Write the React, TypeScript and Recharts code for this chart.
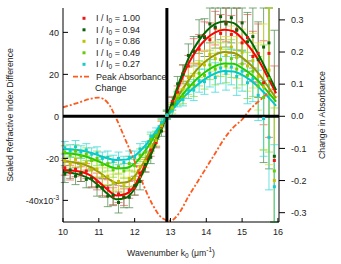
import React from "react";
import {
  ComposedChart,
  XAxis,
  YAxis,
  Line,
  Scatter,
  ErrorBar,
  ReferenceLine,
  Legend,
} from "recharts";

const FONT = "'Liberation Sans', Arial, Helvetica, sans-serif";

// wavenumbers of the measured points (um^-1)
const kPoints = [
  10.05, 10.2, 10.35, 10.5, 10.65, 10.8, 10.95, 11.1, 11.25, 11.4, 11.55, 11.7, 11.85,
  12.0, 12.15, 12.3, 12.45, 12.6, 12.75, 12.9, 13.05, 13.2, 13.35, 13.5, 13.65, 13.8, 13.95,
  14.1, 14.25, 14.4, 14.55, 14.7, 14.85, 15.0, 15.15, 15.3, 15.45, 15.6, 15.75, 15.9,
];

const ratios = ["1.00", "0.94", "0.86", "0.49", "0.27"];

// scaled refractive index difference (x10^-3), measured
const measured100 = [
  -24.5, -26.8, -25.2, -27.5, -26.0, -29.5, -31.0, -33.8, -34.2, -38.0, -37.0, -38.5, -35.0,
  -34.0, -27.0, -23.5, -16.0, -12.5, -4.8, 0.5, 7.0, 11.5, 20.5, 24.0, 31.0, 32.0, 38.0,
  36.5, 42.0, 39.5, 44.5, 39.0, 41.5, 35.0, 37.5, 28.5, 30.0, 16.0, 30.0, -21.0,
];
const measured094 = [
  -27.5, -25.5, -28.5, -27.0, -30.0, -29.5, -33.5, -34.0, -38.0, -37.5, -41.0, -38.5, -38.5,
  -33.0, -31.0, -23.0, -19.5, -11.5, -7.0, 1.0, 6.0, 15.5, 20.0, 29.0, 31.0, 38.0, 37.5,
  44.0, 42.5, 47.5, 44.0, 47.0, 41.0, 44.5, 35.5, 38.0, 27.0, 33.0, 35.0, -19.0,
];
const measured086 = [
  -21.0, -22.5, -20.5, -23.5, -22.0, -25.5, -25.0, -28.5, -28.5, -31.5, -31.0, -33.0, -29.5,
  -29.5, -24.0, -21.5, -14.5, -11.5, -4.5, 0.5, 4.0, 10.0, 13.0, 18.5, 19.5, 25.0, 24.5,
  29.5, 27.5, 32.5, 29.0, 33.0, 28.0, 30.5, 24.0, 26.5, 19.0, 14.0, 22.0, -30.5,
];
const measured049 = [
  -17.0, -18.5, -16.5, -19.0, -18.0, -21.0, -20.0, -23.0, -22.5, -25.5, -24.0, -26.0, -22.5,
  -23.5, -18.5, -17.0, -11.0, -9.0, -3.5, 0.5, 3.0, 8.5, 9.5, 15.0, 15.0, 20.5, 19.5,
  24.5, 22.5, 27.0, 24.0, 27.5, 22.5, 25.0, 19.5, 21.5, 14.5, 9.0, 18.0, -26.0,
];
const measured027 = [
  -15.0, -16.5, -14.5, -17.0, -16.0, -18.0, -17.5, -20.0, -19.5, -21.5, -20.0, -22.0, -19.5,
  -19.5, -15.5, -14.5, -9.5, -7.5, -3.0, 0.5, 2.5, 7.0, 8.0, 12.5, 12.5, 17.0, 16.5,
  20.5, 18.5, 23.0, 20.5, 23.5, 19.0, 21.5, 16.0, 18.0, 10.0, -1.0, -10.0, -33.5,
];

// error bar half-heights
const errors100 = [
  3.5, 3.5, 3.5, 3.5, 3.5, 4, 4, 4, 4, 4, 4, 4, 4,
  3.5, 3.5, 3, 3, 2.5, 2.5, 2, 2.5, 3, 4, 5, 6, 7, 7,
  8, 8, 9, 9, 9, 10, 10, 11, 12, 14, 20, 40, 45,
];
const errors094 = [
  4, 4, 4, 4, 4, 4.5, 4.5, 4.5, 5, 5, 5, 5, 5,
  4.5, 4, 3.5, 3, 3, 2.5, 2, 3, 3.5, 4.5, 5.5, 7, 8, 9,
  9, 10, 11, 11, 12, 12, 13, 14, 15, 18, 55, 60, 60,
];
const errors086 = [
  3.5, 3.5, 3.5, 3.5, 3.5, 4, 4, 4, 4, 4, 4, 4, 4,
  3.5, 3.5, 3, 3, 2.5, 2.5, 2, 2.5, 3, 4, 5, 6, 6.5, 7,
  8, 8, 9, 9, 10, 10, 11, 12, 13, 16, 30, 45, 40,
];
const errors049 = [
  3, 3, 3, 3, 3, 3.5, 3.5, 3.5, 3.5, 3.5, 3.5, 3.5, 3.5,
  3, 3, 2.5, 2.5, 2, 2, 2, 2.5, 3, 3.5, 4.5, 5.5, 6, 6.5,
  7, 7.5, 8, 8, 9, 9, 10, 11, 12, 14, 25, 35, 30,
];
const errors027 = [
  3, 3, 3, 3, 3, 3, 3, 3, 3, 3, 3, 3, 3,
  3, 2.5, 2.5, 2, 2, 2, 2, 2, 2.5, 3, 4, 5, 5.5, 6,
  6.5, 7, 7.5, 8, 8.5, 9, 9.5, 10, 11, 12, 18, 25, 20,
];

// fitted curves
const fitK = [
  10, 10.25, 10.5, 10.75, 11, 11.25, 11.5, 11.75, 12, 12.25, 12.5, 12.75, 13,
  13.25, 13.5, 13.75, 14, 14.25, 14.5, 14.75, 15, 15.25, 15.5, 15.75, 15.95,
];
const fit100 = [
  -25.5, -25.8, -26.4, -28.0, -31.2, -35.0, -37.7, -37.0, -33.0, -24.5, -15.0, -5.5, 4.0,
  15.0, 25.0, 32.0, 37.0, 40.0, 41.2, 40.5, 37.0, 32.0, 25.5, 17.5, 11.0,
];
const fit094 = [
  -26.5, -27.0, -28.0, -29.8, -33.0, -37.0, -39.5, -38.8, -34.5, -26.0, -16.5, -6.0, 4.5,
  16.5, 27.5, 35.0, 40.5, 44.0, 45.2, 44.5, 41.0, 35.5, 28.0, 19.5, 12.5,
];
const fit086 = [
  -21.5, -21.8, -22.5, -24.0, -26.5, -29.5, -31.7, -31.5, -28.5, -22.0, -14.0, -5.0, 3.0,
  10.5, 17.0, 22.5, 26.5, 29.3, 30.6, 30.3, 28.0, 24.3, 19.5, 13.5, 8.6,
];
const fit049 = [
  -17.5, -17.8, -18.5, -19.8, -21.5, -23.5, -24.8, -24.6, -22.5, -17.5, -11.0, -4.0, 2.5,
  8.5, 13.5, 18.0, 21.5, 24.0, 25.2, 25.0, 23.0, 20.0, 16.0, 11.0, 7.0,
];
const fit027 = [
  -15.5, -15.8, -16.3, -17.2, -18.6, -20.0, -20.8, -20.6, -18.8, -14.8, -9.5, -3.5, 2.0,
  7.0, 11.3, 15.0, 18.2, 20.5, 21.6, 21.4, 19.8, 17.0, 13.3, 8.8, 5.0,
];

// peak absorbance change (right axis)
const peakK = [
  10, 10.25, 10.5, 10.75, 11, 11.25, 11.5, 11.75, 12, 12.25, 12.5, 12.75, 13,
  13.25, 13.5, 13.75, 14, 14.25, 14.5, 14.75, 15, 15.25, 15.5, 15.75, 15.85,
];
const peakChange = [
  0.028, 0.036, 0.045, 0.054, 0.058, 0.042, -0.01, -0.075, -0.14, -0.215, -0.275, -0.315, -0.325,
  -0.3, -0.25, -0.205, -0.16, -0.115, -0.07, -0.035, -0.01, 0.025, 0.05, 0.075, 0.085,
];

const kTicks = [10, 11, 12, 13, 14, 15, 16];
const indexTicks = [-40, -20, 0, 20, 40];
const absTicks = [-0.3, -0.2, -0.1, 0, 0.1, 0.2, 0.3];
const kDomain = [10, 16.03];
const indexDomain = [-50.3, 51.6];
const absDomain = [-0.329, 0.337];
const crossingK = 12.9;

const pointColors = ["#f01414", "#0b600b", "#c0c000", "#66cc00", "#14cccc"];
const fitColors = ["#ff0000", "#006800", "#9a9a00", "#22cc00", "#00c8c8"];
const barColors = ["#ff5a5a", "#4f8f4f", "#dede30", "#8ade30", "#3ad8d8"];
const peakColor = "#ff5a1e";

const measured = [measured100, measured094, measured086, measured049, measured027];
const errors = [errors100, errors094, errors086, errors049, errors027];
const fits = [fit100, fit094, fit086, fit049, fit027];

// error bars are cut at the frame, like the plot window does
const pointData = measured.map((vals, i) =>
  kPoints.map((x, j) => {
    const y = vals[j];
    const e = errors[i][j];
    return {
      x,
      y,
      err: [Math.min(e, y - indexDomain[0]), Math.min(e, indexDomain[1] - y)],
    };
  })
);
const fitData = fits.map((vals) => fitK.map((x, j) => ({ x, y: vals[j] })));
const peakData = peakK.map((x, j) => ({ x, y: peakChange[j] }));

const textStyle = { fontFamily: FONT, fontSize: 9, fill: "#222" };

function BottomTick({ x, y, payload }: any) {
  return (
    <g>
      <line x1={x} y1={y} x2={x} y2={y - 4} stroke="#000" />
      <text x={x} y={y + 13} textAnchor="middle" {...textStyle}>
        {payload.value}
      </text>
    </g>
  );
}

function TopTick({ x, y }: any) {
  return <line x1={x} y1={y} x2={x} y2={y + 4} stroke="#000" />;
}

function LeftTick({ x, y, payload }: any) {
  const v = payload.value;
  return (
    <g>
      <line x1={x} y1={y} x2={x + 5} y2={y} stroke="#000" />
      <text x={x - 4} y={y} dy="0.35em" textAnchor="end" {...textStyle}>
        {v}
        {v === -40 && <tspan>x10</tspan>}
        {v === -40 && (
          <tspan dy={-4} fontSize={6.5}>
            -3
          </tspan>
        )}
      </text>
    </g>
  );
}

function RightTick({ x, y, payload }: any) {
  return (
    <g>
      <line x1={x} y1={y} x2={x + 6} y2={y} stroke="#000" />
      <text x={x + 12} y={y} dy="0.35em" textAnchor="start" {...textStyle}>
        {payload.value.toFixed(1)}
      </text>
    </g>
  );
}

function BottomTitle({ viewBox }: any) {
  const { x, y, width } = viewBox;
  return (
    <text x={x + width / 2} y={y + 34} textAnchor="middle" {...textStyle} fontSize={8.7}>
      Wavenumber k
      <tspan dy={2} fontSize={6.5}>0</tspan>
      <tspan dy={-2}> (μm</tspan>
      <tspan dy={-4} fontSize={6.5}>-1</tspan>
      <tspan dy={4}>)</tspan>
    </text>
  );
}

function LeftTitle({ viewBox }: any) {
  const cx = viewBox.x + 13;
  const cy = viewBox.y + viewBox.height / 2;
  return (
    <text x={cx} y={cy} transform={`rotate(-90 ${cx} ${cy})`} textAnchor="middle" {...textStyle} fontSize={8.7}>
      Scaled Refractive Index Difference
    </text>
  );
}

function RightTitle({ viewBox }: any) {
  const cx = viewBox.x + 46;
  const cy = viewBox.y + viewBox.height / 2;
  return (
    <text x={cx} y={cy} transform={`rotate(-90 ${cx} ${cy})`} textAnchor="middle" {...textStyle} fontSize={8.7}>
      Change in Absorbance
    </text>
  );
}

function LegendBox() {
  return (
    <svg width={120} height={84} style={{ display: "block", overflow: "visible" }}>
      {ratios.map((r, i) => {
        const cy = 8.3 + i * 11.5;
        return (
          <g key={r}>
            <rect x={10.5} y={cy - 1.5} width={3} height={3} fill={pointColors[i]} />
            <text x={24} y={cy} dy="0.35em" {...textStyle}>
              I / I<tspan dy={2} fontSize={6.5}>0</tspan>
              <tspan dy={-2}> = {r}</tspan>
            </text>
          </g>
        );
      })}
      <line x1={1} x2={19} y1={66.7} y2={66.7} stroke={peakColor} strokeWidth={1.8} strokeDasharray="5 2 2 2" />
      <text x={24} y={66.7} dy="0.35em" {...textStyle}>
        Peak Absorbance
      </text>
      <text x={23} y={77.5} dy="0.35em" {...textStyle}>
        Change
      </text>
    </svg>
  );
}

export default function App() {
  return (
    <div style={{ position: "absolute", left: 0, top: 0, width: 341, height: 264, background: "#fff" }}>
      <ComposedChart width={341} height={264} margin={{ top: 8, right: 0, bottom: 0, left: 0 }}>
        <XAxis
          xAxisId="b"
          dataKey="x"
          type="number"
          domain={kDomain}
          ticks={kTicks}
          interval={0}
          allowDataOverflow
          height={42}
          tickSize={0}
          tickMargin={0}
          tickLine={false}
          axisLine={{ stroke: "#000" }}
          tick={(p: any) => <BottomTick {...p} />}
          label={<BottomTitle />}
        />
        <XAxis
          xAxisId="t"
          orientation="top"
          dataKey="x"
          type="number"
          domain={kDomain}
          ticks={kTicks}
          interval={0}
          allowDataOverflow
          height={0}
          tickSize={0}
          tickMargin={0}
          tickLine={false}
          axisLine={{ stroke: "#000" }}
          tick={(p: any) => <TopTick {...p} />}
        />
        <YAxis
          yAxisId="left"
          dataKey="y"
          type="number"
          domain={indexDomain}
          ticks={indexTicks}
          interval={0}
          allowDataOverflow
          width={63}
          tickSize={0}
          tickMargin={0}
          tickLine={false}
          axisLine={{ stroke: "#000" }}
          tick={(p: any) => <LeftTick {...p} />}
          label={<LeftTitle />}
        />
        <YAxis
          yAxisId="right"
          orientation="right"
          dataKey="y"
          type="number"
          domain={absDomain}
          ticks={absTicks}
          interval={0}
          allowDataOverflow
          width={62}
          tickSize={0}
          tickMargin={0}
          tickLine={false}
          axisLine={{ stroke: "#000" }}
          tick={(p: any) => <RightTick {...p} />}
          label={<RightTitle />}
        />

        {pointData.map((pts, i) => (
          <Scatter
            key={"pts" + i}
            data={pts}
            xAxisId="b"
            yAxisId="left"
            isAnimationActive={false}
            shape={(p: any) => (
              <rect x={p.cx - 1.5} y={p.cy - 1.5} width={3} height={3} fill={pointColors[i]} />
            )}
          >
            <ErrorBar
              dataKey="err"
              direction="y"
              width={4}
              stroke={barColors[i]}
              strokeOpacity={0.75}
              strokeWidth={1}
              isAnimationActive={false}
            />
          </Scatter>
        ))}

        {fitData.map((pts, i) => (
          <Line
            key={"fit" + i}
            data={pts}
            dataKey="y"
            xAxisId="b"
            yAxisId="left"
            type="monotone"
            stroke={fitColors[i]}
            strokeWidth={2}
            dot={false}
            isAnimationActive={false}
          />
        ))}

        <Line
          data={peakData}
          dataKey="y"
          xAxisId="b"
          yAxisId="right"
          type="monotone"
          stroke={peakColor}
          strokeWidth={1.8}
          strokeDasharray="5 2 2 2"
          dot={false}
          isAnimationActive={false}
        />

        <ReferenceLine y={0} xAxisId="b" yAxisId="left" stroke="#000" strokeWidth={3} />
        <ReferenceLine x={crossingK} xAxisId="b" yAxisId="left" stroke="#000" strokeWidth={3} />

        <Legend
          layout="vertical"
          align="center"
          verticalAlign="middle"
          content={<LegendBox />}
          wrapperStyle={{ left: 72, top: 10, width: 120, height: 84 }}
        />
      </ComposedChart>
    </div>
  );
}
